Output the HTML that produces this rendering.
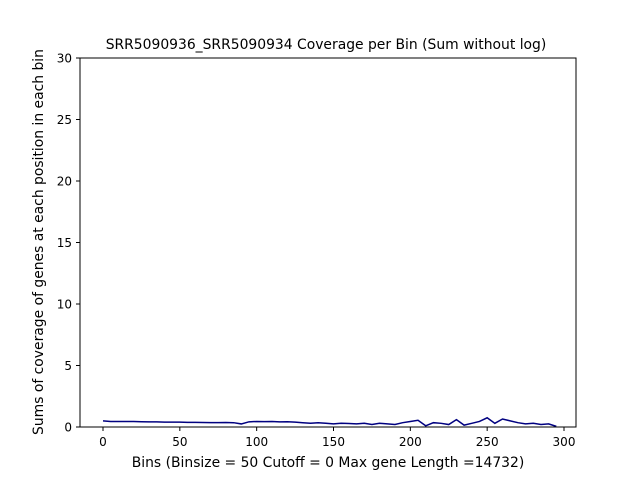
<!DOCTYPE html>
<html><head><meta charset="utf-8"><style>
body{margin:0;background:#fff}
svg text{font-family:"DejaVu Sans","Liberation Sans",sans-serif;fill:#000}
</style></head><body>
<svg id="chart" width="640" height="480">
<text x="326" y="49" text-anchor="middle" font-size="13.9">SRR5090936_SRR5090934 Coverage per Bin (Sum without log)</text>
<text x="328" y="467" text-anchor="middle" font-size="13.9">Bins  (Binsize = 50 Cutoff = 0 Max gene Length =14732)</text>
<text transform="translate(43,242) rotate(-90)" text-anchor="middle" font-size="13.9">Sums of coverage of genes at each position in each bin</text>
<g id="axes"></g>
<polyline id="line" fill="none" stroke="#000080" stroke-width="1.5"/>
<rect x="80" y="58" width="496" height="369" fill="none" stroke="#000" stroke-width="1"/>
</svg>
<script>
const xTicks=[0,50,100,150,200,250,300];
const yTicks=[0,5,10,15,20,25,30];
const bins=[];for(let i=0;i<60;i++)bins.push(i*5);
const values=[0.5,0.45,0.45,0.45,0.45,0.43,0.42,0.42,0.4,0.4,0.4,0.38,0.38,0.37,0.36,0.36,0.37,0.35,0.25,0.42,0.45,0.44,0.45,0.42,0.43,0.4,0.35,0.3,0.35,0.3,0.25,0.3,0.28,0.25,0.3,0.2,0.3,0.25,0.2,0.35,0.45,0.55,0.1,0.35,0.3,0.2,0.6,0.15,0.3,0.45,0.75,0.3,0.65,0.5,0.35,0.25,0.3,0.2,0.25,0.05];
const X=v=>103+(v)*461/300;
const Y=v=>427-v*369/30;
const ns="http://www.w3.org/2000/svg";
const ax=document.getElementById('axes');
xTicks.forEach(t=>{
 const l=document.createElementNS(ns,'line');
 
 
 l.setAttribute('x1',X(t));l.setAttribute('x2',X(t));l.setAttribute('y1',427);l.setAttribute('y2',431);l.setAttribute('stroke','#000');ax.appendChild(l);
 const tx=document.createElementNS(ns,'text');
 
 
 tx.setAttribute('x',X(t));tx.setAttribute('y',446);tx.setAttribute('text-anchor','middle');tx.setAttribute('font-size','12');tx.textContent=t;ax.appendChild(tx);
});
yTicks.forEach(t=>{
 const l=document.createElementNS(ns,'line');
 
 
 l.setAttribute('x1',76);l.setAttribute('x2',80);l.setAttribute('y1',Y(t));l.setAttribute('y2',Y(t));l.setAttribute('stroke','#000');ax.appendChild(l);
 const tx=document.createElementNS(ns,'text');
 
 
 tx.setAttribute('x',72);tx.setAttribute('y',Y(t)+4.5);tx.setAttribute('text-anchor','end');tx.setAttribute('font-size','12');tx.textContent=t;ax.appendChild(tx);
});
document.getElementById('line').setAttribute('points',bins.map((b,i)=>X(b)+','+Y(values[i])).join(' '));
</script>
</body></html>
